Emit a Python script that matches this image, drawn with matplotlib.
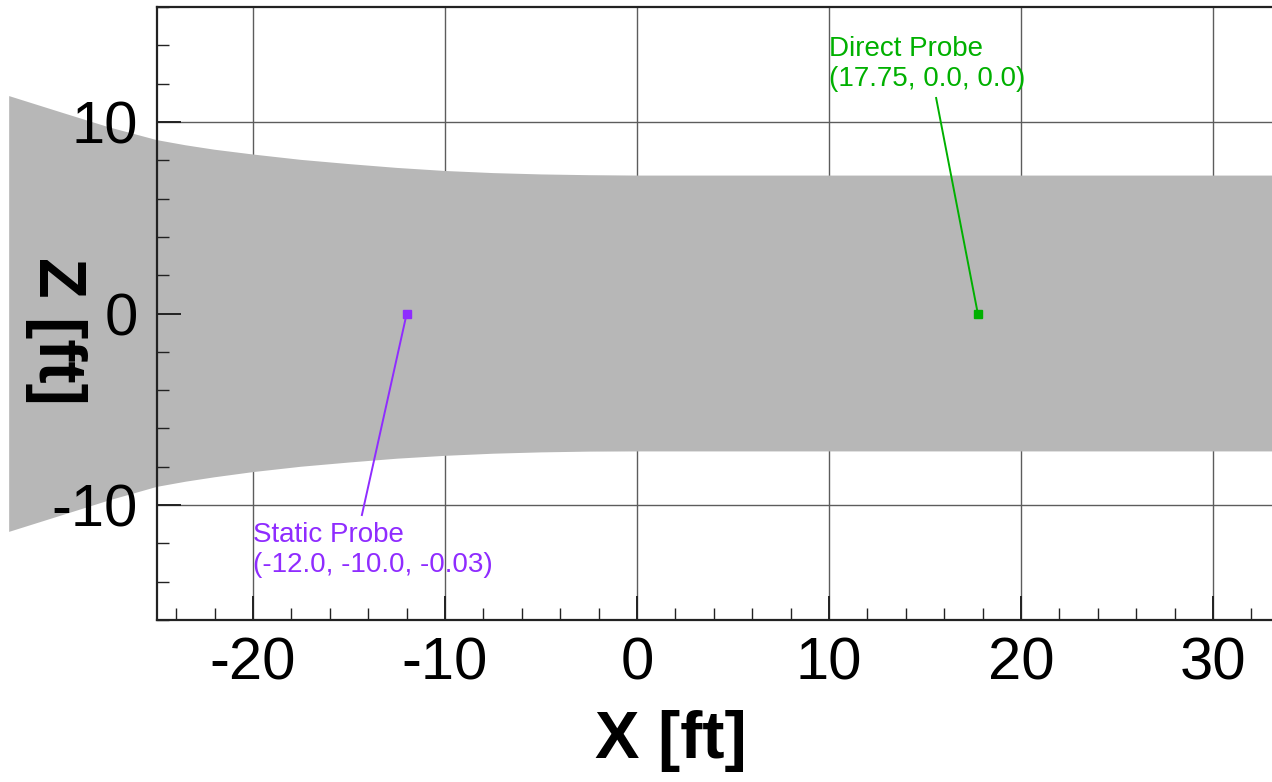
import matplotlib
matplotlib.use("Agg")
import matplotlib.pyplot as plt
from matplotlib.ticker import MultipleLocator

plt.rcParams["font.family"] = ["Liberation Sans", "DejaVu Sans"]
plt.rcParams["axes.unicode_minus"] = False

# Plume outline in the X-Z plane: upper and lower edges [ft]
plume_x = [-32.7, -30.0, -27.5, -25.0, -23.5, -22.0, -20.0, -17.5, -15.0,
           -12.5, -10.0, -7.5, -5.0, -2.5, 0.0, 10.0, 36.0]
plume_upper = [11.35, 10.5, 9.72, 9.05, 8.78, 8.55, 8.3, 8.02, 7.8,
               7.6, 7.44, 7.33, 7.26, 7.22, 7.2, 7.2, 7.2]
plume_lower = [-11.4, -10.55, -9.76, -9.05, -8.78, -8.55, -8.28, -8.0, -7.78,
               -7.58, -7.43, -7.32, -7.25, -7.21, -7.2, -7.2, -7.2]

# Probes: name, (X, Y, Z) location [ft], colour
probe_names = ["Static Probe", "Direct Probe"]
probe_xyz = [(-12.0, -10.0, -0.03), (17.75, 0.0, 0.0)]
probe_colors = ["#8f2cff", "#00b000"]

# Label placement (data coords): text top-left and leader-line end
label_pos = [(-20.0, -10.9), (10.0, 14.5)]
leader_end = [(-14.34, -10.57), (15.57, 11.3)]

x_major = [-20, -10, 0, 10, 20, 30]
z_major = [-10, 0, 10]

W, H = 1272, 782
fig = plt.figure(figsize=(W / 100, H / 100), dpi=100)
ax = fig.add_axes([157 / W, 162 / H, 1 - 157 / W, 613 / H])
ax.set_xlim(-25, -25 + 1115 / 19.2)
ax.set_ylim(-16, 16)

# grid behind the plume
for xv in x_major:
    ax.axvline(xv, color="#5c5c5c", lw=1.0, zorder=0.5)
for zv in z_major:
    ax.axhline(zv, color="#5c5c5c", lw=1.0, zorder=0.5)

ax.fill_between(plume_x, plume_lower, plume_upper, color="#b7b7b7",
                lw=0, zorder=1, clip_on=False)

for name, (px, py, pz), col, (tx, tz), (ex, ez) in zip(
        probe_names, probe_xyz, probe_colors, label_pos, leader_end):
    ax.plot([px, ex], [pz, ez], color=col, lw=1.4, zorder=3,
            solid_capstyle="butt")
    ax.plot([px], [pz], marker="s", ms=5.5, color=col, mec=col, zorder=4)
    ax.text(tx, tz, f"{name}\n({px}, {py}, {pz})", color=col, fontsize=20,
            ha="left", va="top", zorder=4)

ax.xaxis.set_major_locator(MultipleLocator(10))
ax.xaxis.set_minor_locator(MultipleLocator(2))
ax.yaxis.set_major_locator(MultipleLocator(10))
ax.yaxis.set_minor_locator(MultipleLocator(2))
ax.set_xticks(x_major)
ax.set_yticks(z_major)

ax.tick_params(which="both", direction="in", top=False, right=False,
               color="#222222", labelcolor="black")
ax.tick_params(which="major", length=17, width=1.4, labelsize=43)
ax.tick_params(which="minor", length=8.5, width=1.0)
ax.tick_params(axis="x", which="major", pad=12)
ax.tick_params(axis="y", which="major", pad=14)

for side in ("left", "bottom", "top"):
    ax.spines[side].set_linewidth(1.6)
    ax.spines[side].set_color("#222222")
ax.spines["right"].set_visible(False)

ax.set_xlabel("X [ft]", fontsize=48, fontweight="bold", color="black")
ax.xaxis.set_label_coords((671 - 157) / 1115, (620 - 710) / 613)
ax.set_ylabel("Z [ft]", fontsize=48, fontweight="bold", rotation=270,
              va="center", ha="center", color="black")
ax.yaxis.set_label_coords((56 - 157) / 1115, (620 - 331) / 613)

fig.savefig("out.png", dpi=100)
